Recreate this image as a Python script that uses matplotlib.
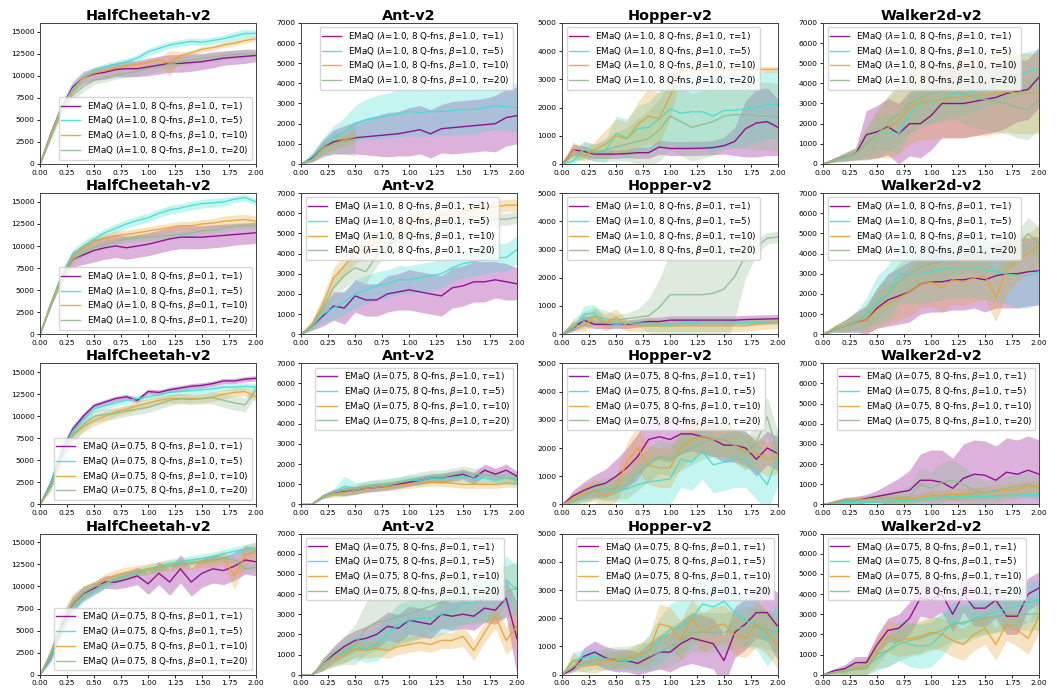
import numpy as np
import matplotlib
matplotlib.use("Agg")
import matplotlib.pyplot as plt

nan = np.nan
x = [i / 10 for i in range(21)]

envs = ["HalfCheetah-v2", "Ant-v2", "Hopper-v2", "Walker2d-v2"]
settings = [("1.0", "1.0"), ("1.0", "0.1"), ("0.75", "1.0"), ("0.75", "0.1")]
taus = ["1", "5", "10", "20"]
colors = ["#8B008B", "#40E0D0", "#E5A435", "#8FBC8F"]

# ---------------- Row 1: lambda=1.0, beta=1.0 ----------------
r1_hc_mean = [
    [0, 3500, 6500, 8700, 9800, 10200, 10400, 10700, 10800, 10800, 11000, 11200, 11400, 11400, 11500, 11600, 11800, 12000, 12100, 12200, 12300],
    [0, 3400, 6500, 8500, 9800, 10600, 11000, 11300, 11600, 12000, 12700, 13100, 13500, 13700, 13900, 13800, 14000, 14200, 14500, 14800, 14800],
    [0, 3400, 6300, 8300, 9800, 10300, 10600, 10900, 11100, 11300, 11500, 11800, 11400, 12300, 12600, 13000, 13200, 13500, 13700, 14000, 14200],
    [0, 3000, 6000, 7800, 8800, 9500, 9800, 10100, 10300, 10500, 10800, 11000, 11300, 11600, 11800, 12000, 12100, 12300, 12400, 12500, 12500],
]
r1_hc_err = [
    [0, 300, 400, 600, 700, 700, 800, 800, 900, 900, 1000, 1000, 1000, 1000, 1000, 900, 900, 800, 800, 800, 700],
    [0, 200, 300, 400, 400, 400, 400, 400, 400, 400, 400, 400, 400, 400, 400, 400, 400, 400, 500, 500, 400],
    [0, 200, 300, 300, 300, 300, 300, 300, 300, 300, 300, 300, 1500, 400, 300, 300, 300, 300, 300, 300, 300],
    [0, 300, 500, 600, 600, 500, 500, 500, 500, 500, 500, 500, 500, 500, 500, 500, 500, 500, 500, 500, 500],
]
r1_ant_mean = [
    [0, 300, 800, 1100, 1200, 1300, 1350, 1400, 1450, 1500, 1600, 1700, 1500, 1750, 1800, 1850, 1900, 1950, 2000, 2300, 2400],
    [0, 350, 900, 1300, 1600, 2000, 2200, 2300, 2400, 2500, 2600, 2550, 2600, 2600, 2650, 2700, 2700, 2800, 2900, 2850, 2800],
    [0, 200, 800, 1000, 1200, 1350, nan, nan, nan, nan, nan, nan, nan, nan, nan, nan, nan, nan, nan, nan, nan],
    [0, 200, 700, 1000, 1100, 1200, nan, nan, nan, nan, nan, nan, nan, nan, nan, nan, nan, nan, nan, nan, nan],
]
r1_ant_err = [
    [0, 200, 400, 600, 700, 800, 900, 1000, 1100, 1100, 1200, 1200, 1200, 1200, 1300, 1300, 1300, 1300, 1400, 1400, 1400],
    [0, 200, 400, 600, 700, 900, 1000, 1100, 1100, 1200, 1200, 1200, 1200, 1200, 1200, 1200, 1200, 1200, 1200, 1200, 1200],
    [0, 100, 300, 300, 300, 300, nan, nan, nan, nan, nan, nan, nan, nan, nan, nan, nan, nan, nan, nan, nan],
    [0, 100, 400, 500, 600, 800, nan, nan, nan, nan, nan, nan, nan, nan, nan, nan, nan, nan, nan, nan, nan],
]
r1_hop_mean = [
    [0, 500, 450, 350, 350, 350, 370, 400, 400, 600, 550, 550, 550, 560, 580, 650, 800, 1250, 1450, 1500, 1300],
    [0, 100, 500, 400, 450, 1100, 900, 1250, 1300, 1600, 1950, 1800, 1850, 1850, 1700, 1900, 1900, 1950, 2000, 2100, 2100],
    [0, 500, 300, 500, 700, 1000, 900, 1400, 1700, 1600, 2400, 3300, 3350, 3350, 3350, 3350, 3350, 3350, 3350, 3350, 3350],
    [0, 300, 500, 400, 500, 600, 700, 800, 900, 1200, 1700, 1500, 1300, 1400, 1500, 1700, 1750, 1750, 1700, 1700, 1650],
]
r1_hop_err = [
    [0, 200, 200, 150, 150, 150, 150, 200, 200, 250, 250, 250, 250, 250, 250, 300, 500, 1000, 1200, 1200, 1000],
    [0, 100, 300, 300, 400, 600, 700, 800, 900, 1000, 1200, 1300, 1300, 1300, 1300, 1300, 1300, 1300, 1200, 1200, 1200],
    [0, 300, 200, 300, 500, 600, 600, 800, 1000, 900, 800, 150, 100, 100, 100, 100, 100, 100, 100, 100, 100],
    [0, 200, 300, 300, 400, 500, 600, 800, 1000, 1100, 1200, 1200, 1200, 1200, 1200, 1200, 1200, 1200, 1200, 1200, 1200],
]
r1_wk_mean = [
    [0, 200, 350, 500, 1450, 1600, 1850, 1500, 2000, 2000, 2400, 3000, 3000, 3000, 3100, 3200, 3300, 3500, 3600, 3700, 4300],
    [0, 200, 300, 500, 1000, 1500, 1600, 1500, 2500, 3000, 3000, 3200, 3500, 3400, 3600, 3800, 4000, 4200, 4400, 4600, 4700],
    [0, 200, 350, 500, 1000, 1500, 1800, 2200, 2800, 3100, 3100, 3200, 3300, 3300, 3400, 3400, 3500, 3600, 3500, 3500, 3500],
    [0, 200, 350, 500, 1000, 1500, 2000, 2500, 3000, 3300, 3500, 3600, 3700, 3500, 3300, 3200, 3100, 3000, 2800, 2700, 3200],
]
r1_wk_err = [
    [0, 100, 200, 300, 1200, 1300, 1400, 1500, 1600, 1700, 1700, 1700, 1700, 1700, 1700, 1700, 1700, 1700, 1500, 1500, 1500],
    [0, 100, 200, 300, 600, 800, 900, 1000, 1000, 1000, 1000, 1000, 1000, 1000, 1000, 1000, 1000, 1000, 1000, 1000, 1000],
    [0, 100, 200, 300, 800, 1200, 1500, 1700, 1800, 1900, 1900, 1900, 2000, 2000, 2000, 2000, 2000, 2000, 2000, 2000, 2000],
    [0, 100, 200, 300, 800, 1200, 1400, 1500, 1500, 1500, 1500, 1500, 1500, 1500, 1500, 1500, 1500, 1500, 1500, 1500, 1500],
]

# ---------------- Row 2: lambda=1.0, beta=0.1 ----------------
r2_hc_mean = [
    [0, 3500, 6500, 8500, 9000, 9500, 9800, 10000, 9800, 10000, 10200, 10500, 10800, 11000, 11000, 11000, 11100, 11200, 11300, 11400, 11500],
    [0, 3500, 6800, 9000, 10000, 10800, 11500, 12000, 12500, 12900, 13200, 13700, 14100, 14300, 14600, 14800, 14900, 15000, 15300, 15500, 15000],
    [0, 3500, 6500, 8800, 9800, 10500, 10900, 11200, 11300, 11500, 11700, 11900, 12100, 12300, 12300, 12500, 12600, 12800, 12900, 13000, 12800],
    [0, 3300, 6300, 8500, 9200, 9800, 10200, 10500, 10800, 10900, 11000, 11100, 11200, 11300, 11500, 11700, 11800, 12000, 12200, 12300, 12300],
]
r2_hc_err = [
    [0, 300, 600, 900, 1100, 1300, 1300, 1300, 1300, 1300, 1300, 1300, 1300, 1300, 1300, 1300, 1300, 1300, 1200, 1200, 1200],
    [0, 300, 500, 600, 600, 500, 500, 500, 500, 500, 500, 500, 500, 500, 500, 500, 500, 500, 400, 400, 400],
    [0, 300, 500, 500, 500, 500, 500, 500, 500, 500, 500, 500, 500, 500, 500, 500, 500, 600, 600, 600, 600],
    [0, 300, 500, 500, 400, 400, 400, 400, 400, 400, 400, 400, 400, 400, 400, 400, 400, 400, 400, 400, 400],
]
r2_ant_mean = [
    [0, 400, 900, 1400, 1300, 1900, 1700, 1700, 2000, 2100, 2200, 2100, 2000, 1900, 2300, 2400, 2600, 2600, 2700, 2600, 2500],
    [0, 400, 1000, 1300, 1600, 2000, 2200, 2400, 2500, 2700, 2700, 2800, 2900, 3000, 3300, 3500, 3600, 3700, 3800, 3800, 4200],
    [0, 500, 1500, 2800, 3400, 4000, 4200, 4600, 5000, 5300, 5600, 5700, 5800, 5900, 6000, 6100, 6200, 6300, 6300, 6400, 6400],
    [0, 400, 1300, 2300, 2900, 3300, 3100, 3900, 4400, 4700, 5000, 5100, 5300, 5400, 5500, 5600, 5600, 5600, 5700, 5700, 5800],
]
r2_ant_err = [
    [0, 200, 500, 700, 800, 800, 800, 800, 900, 900, 1000, 1000, 1000, 1000, 1000, 1000, 1000, 1000, 900, 900, 800],
    [0, 200, 400, 600, 600, 700, 700, 700, 700, 700, 700, 700, 700, 700, 700, 700, 700, 700, 700, 700, 700],
    [0, 200, 400, 500, 500, 500, 400, 400, 300, 300, 300, 300, 300, 300, 300, 300, 300, 300, 300, 300, 300],
    [0, 200, 400, 500, 600, 600, 600, 500, 400, 400, 400, 400, 400, 300, 300, 300, 300, 300, 300, 300, 300],
]
r2_hop_mean = [
    [0, 200, 500, 350, 350, 350, 350, 400, 450, 450, 500, 500, 500, 500, 500, 500, 500, 520, 530, 540, 550],
    [0, 200, 700, 750, 400, 350, 380, 400, 380, 370, 350, 400, 420, 450, 450, 450, 430, 400, 420, 440, 450],
    [0, 300, 300, 600, 400, 600, 300, 300, 300, 300, 300, 300, 300, 300, 300, 300, 300, 300, 350, 380, 400],
    [0, 350, 500, 650, 550, 500, 550, 600, 650, 950, 1400, 1400, 1400, 1400, 1450, 1600, 2050, 2800, 3100, 3400, 3450],
]
r2_hop_err = [
    [0, 100, 200, 150, 150, 150, 150, 150, 150, 150, 150, 150, 150, 150, 150, 150, 150, 150, 150, 150, 150],
    [0, 100, 300, 300, 150, 100, 100, 100, 100, 100, 100, 100, 100, 100, 100, 100, 100, 100, 100, 100, 100],
    [0, 200, 200, 300, 300, 300, 200, 200, 200, 200, 200, 200, 200, 200, 200, 200, 200, 200, 200, 200, 200],
    [0, 200, 300, 300, 300, 200, 200, 300, 600, 1000, 1500, 1700, 1800, 1900, 2000, 2200, 1500, 800, 300, 200, 200],
]
r2_wk_mean = [
    [0, 250, 400, 600, 700, 1300, 1700, 1900, 2100, 2500, 2600, 2600, 2700, 2700, 2800, 2700, 2900, 3000, 3000, 3100, 3150],
    [0, 250, 400, 600, 1000, 1700, 2000, 3000, 3000, 3000, 3100, 3200, 3300, 3300, 3300, 3200, 3100, 3000, 2900, 2900, 3100],
    [0, 300, 400, 600, 700, 1200, 1500, 1800, 2100, 2500, 2600, 2300, 2700, 2600, 2800, 2900, 1800, 3200, 3700, 4000, 4400],
    [0, 250, 400, 600, 900, 1500, 2000, 2600, 3000, 3300, 3500, 3600, 3800, 3900, 4000, 4000, 4000, 4000, 4300, 5000, 4500],
]
r2_wk_err = [
    [0, 150, 300, 500, 700, 1000, 1300, 1400, 1500, 1500, 1500, 1500, 1500, 1500, 1500, 1600, 1600, 1700, 1700, 1700, 1700],
    [0, 150, 300, 500, 800, 1200, 1400, 1500, 1500, 1500, 1500, 1500, 1500, 1500, 1500, 1500, 1500, 1500, 1600, 1600, 1600],
    [0, 150, 300, 400, 600, 900, 1000, 1100, 1200, 1200, 1200, 1200, 1200, 1200, 1200, 1200, 1200, 1200, 1100, 1000, 1000],
    [0, 150, 300, 400, 600, 800, 900, 900, 900, 900, 900, 900, 900, 900, 900, 900, 900, 900, 800, 800, 800],
]

# ---------------- Row 3: lambda=0.75, beta=1.0 ----------------
r3_hc_mean = [
    [0, 2500, 6000, 8500, 10000, 11200, 11600, 12000, 12200, 11800, 12800, 12700, 13000, 13200, 13400, 13500, 13700, 14000, 14000, 14200, 14300],
    [0, 2500, 6000, 8300, 9600, 10800, 11200, 11500, 11800, 12000, 12200, 12400, 12700, 12800, 12900, 13000, 13100, 13300, 13300, 13400, 13300],
    [0, 2000, 5500, 7800, 8800, 9500, 10000, 10500, 10800, 11200, 11500, 11800, 12000, 12000, 12000, 12000, 12200, 12500, 12700, 12800, 12200],
    [0, 2000, 5500, 7800, 9000, 10000, 10200, 10300, 10600, 10800, 11000, 11400, 11800, 12000, 11900, 12000, 12100, 11800, 11500, 11300, 13000],
]
r3_hc_err = [
    [0, 400, 600, 500, 400, 300, 300, 300, 300, 300, 300, 300, 300, 300, 300, 300, 300, 300, 300, 300, 300],
    [0, 400, 800, 700, 500, 400, 400, 400, 400, 400, 400, 400, 400, 400, 400, 400, 400, 400, 400, 400, 400],
    [0, 400, 700, 700, 600, 600, 600, 500, 500, 500, 500, 500, 500, 500, 500, 500, 500, 500, 500, 500, 500],
    [0, 400, 700, 700, 700, 700, 700, 600, 600, 600, 600, 600, 600, 600, 600, 600, 700, 800, 800, 800, 700],
]
r3_ant_mean = [
    [0, 0, 400, 600, 650, 700, 800, 850, 900, 1000, 1100, 1200, 1300, 1300, 1400, 1500, 1300, 1700, 1500, 1700, 1400],
    [0, 0, 400, 600, 900, 800, 900, 950, 1000, 1100, 1200, 1200, 1300, 1300, 1350, 1400, 1300, 1300, 1200, 1300, 1200],
    [0, 0, 400, 500, 600, 700, 800, 850, 900, 950, 1000, 1050, 1100, 1100, 1050, 1000, 1000, 1000, 1000, 1050, 1050],
    [0, 0, 400, 600, 700, 800, 900, 1000, 1050, 1100, 1200, 1300, 1400, 1400, 1500, 1600, 1500, 1500, 1400, 1300, 1300],
]
r3_ant_err = [
    [0, 0, 100, 150, 200, 200, 200, 200, 200, 200, 200, 200, 200, 250, 250, 250, 300, 300, 300, 300, 250],
    [0, 0, 100, 150, 500, 300, 250, 250, 250, 250, 250, 250, 250, 250, 250, 250, 250, 250, 250, 250, 250],
    [0, 0, 100, 150, 200, 200, 200, 200, 200, 200, 200, 200, 200, 200, 200, 200, 200, 200, 200, 200, 200],
    [0, 0, 100, 150, 200, 200, 250, 250, 250, 250, 300, 300, 300, 300, 300, 300, 300, 300, 300, 300, 300],
]
r3_hop_mean = [
    [0, 300, 500, 650, 750, 1000, 1300, 1700, 2300, 2400, 2300, 2500, 2500, 2400, 2300, 2100, 2100, 2000, 1600, 2000, 1800],
    [0, 100, 300, 500, 450, 500, 550, 700, 800, 850, 900, 1600, 1500, 1900, 1400, 1500, 1600, 1600, 1200, 700, 1700],
    [0, 200, 400, 500, 300, 600, 1500, 2000, 1400, 1300, 1300, 2000, 2300, 2400, 2300, 2300, 2100, 1900, 1800, 1600, 1700],
    [0, 100, 300, 500, 550, 600, 700, 1100, 1400, 1700, 1600, 1800, 2000, 2200, 2300, 2300, 2100, 1800, 2200, 3100, 1800],
]
r3_hop_err = [
    [0, 200, 300, 400, 500, 600, 700, 800, 800, 800, 800, 700, 600, 600, 600, 600, 600, 600, 600, 600, 600],
    [0, 100, 200, 300, 300, 400, 500, 700, 800, 900, 900, 1000, 1000, 1000, 1000, 1000, 1000, 1000, 1000, 1000, 1000],
    [0, 200, 300, 400, 400, 500, 700, 800, 700, 700, 700, 700, 700, 600, 600, 600, 600, 600, 600, 600, 600],
    [0, 200, 300, 300, 400, 400, 500, 600, 600, 600, 600, 600, 600, 600, 600, 600, 600, 600, 600, 700, 800],
]
r3_wk_mean = [
    [0, 100, 200, 200, 300, 400, 500, 600, 700, 1200, 1200, 1100, 800, 1300, 1500, 1450, 1200, 1600, 1500, 1700, 1500],
    [0, 50, 100, 100, 100, 100, 150, 180, 200, 250, 300, 350, 400, 400, 400, 400, 420, 450, 450, 480, 500],
    [0, 100, 200, 250, 250, 300, 300, 300, 300, 350, 450, 450, 500, 500, 550, 600, 650, 700, 750, 900, 900],
    [0, 100, 200, 200, 250, 300, 300, 350, 400, 1000, 800, 1100, 1200, 1000, 700, 600, 700, 800, 900, 1000, 800],
]
r3_wk_err = [
    [0, 100, 150, 200, 200, 300, 500, 700, 1000, 1300, 1500, 1600, 1500, 1700, 1700, 1700, 1700, 1700, 1700, 1700, 1700],
    [0, 50, 100, 100, 100, 100, 100, 100, 100, 150, 150, 150, 150, 150, 150, 150, 150, 150, 150, 150, 150],
    [0, 100, 100, 150, 150, 150, 200, 200, 200, 200, 250, 250, 300, 300, 300, 300, 300, 300, 300, 300, 300],
    [0, 100, 150, 150, 200, 200, 300, 400, 500, 800, 800, 1000, 1000, 900, 700, 600, 600, 600, 600, 600, 600],
]

# ---------------- Row 4: lambda=0.75, beta=0.1 ----------------
r4_hc_mean = [
    [0, 2000, 5500, 8000, 9200, 9800, 10500, 10500, 10800, 11200, 10300, 11500, 10500, 12000, 10500, 11500, 12000, 11800, 12300, 13000, 12800],
    [0, 2000, 5200, 7500, 8800, 9500, 10300, 10800, 11200, 11600, 12000, 12300, 12600, 12800, 13000, 13200, 13400, 13700, 14000, 14200, 14400],
    [0, 2500, 6000, 8200, 9300, 10000, 10800, 11300, 11600, 11800, 12000, 12200, 12400, 12500, 12600, 12700, 12900, 13200, 11200, 13500, 14000],
    [0, 2500, 6000, 8000, 9300, 10000, 10300, 10800, 11200, 11500, 11800, 12000, 12300, 12500, 12700, 12900, 13000, 13200, 13000, 12000, 12200],
]
r4_hc_err = [
    [0, 500, 800, 800, 800, 700, 700, 800, 900, 1000, 1200, 1300, 1500, 1600, 1600, 1600, 1600, 1600, 1600, 1600, 1600],
    [0, 500, 800, 800, 600, 500, 500, 500, 500, 500, 500, 500, 500, 500, 500, 500, 500, 500, 500, 600, 600],
    [0, 600, 1000, 1000, 800, 600, 600, 600, 600, 600, 600, 600, 600, 600, 600, 600, 700, 800, 1500, 1200, 1000],
    [0, 600, 900, 900, 700, 500, 400, 400, 400, 400, 400, 400, 400, 400, 400, 400, 400, 400, 400, 500, 500],
]
r4_ant_mean = [
    [0, 0, 500, 1000, 1400, 1700, 1800, 2000, 2400, 2300, 2700, 2600, 2500, 3000, 2900, 3000, 2900, 3300, 3200, 3800, 1800],
    [0, 0, 500, 900, 1100, 1400, 1300, 1500, 2000, 2500, 2700, 2800, 2800, 3000, 3200, 3500, 3600, 3700, 3800, 4700, 4200],
    [0, 0, 500, 800, 1000, 1300, 1200, 1300, 1200, 1400, 1500, 1600, 1500, 1700, 1700, 1900, 1200, 2100, 2900, 1700, 2400],
    [0, 0, 500, 900, 1200, 1500, 2300, 2600, 2700, 2900, 3000, 3200, 3400, 3600, 3700, 3800, 3800, 3900, 4000, 4100, 4300],
]
r4_ant_err = [
    [0, 0, 300, 400, 500, 500, 600, 700, 700, 700, 700, 700, 700, 700, 700, 700, 700, 700, 700, 900, 1800],
    [0, 0, 300, 400, 500, 600, 700, 800, 900, 1000, 1000, 1000, 1000, 1000, 1000, 1000, 1000, 1000, 1000, 1200, 1200],
    [0, 0, 300, 400, 400, 400, 400, 400, 400, 400, 400, 400, 400, 400, 400, 500, 500, 500, 600, 700, 900],
    [0, 0, 300, 500, 700, 1000, 1300, 1400, 1400, 1400, 1400, 1400, 1300, 1300, 1300, 1300, 1300, 1300, 1300, 1300, 1300],
]
r4_hop_mean = [
    [0, 200, 650, 800, 600, 500, 500, 400, 600, 800, 800, 1100, 1300, 1200, 1100, 500, 1500, 1800, 2200, 2200, 1700],
    [0, 500, 600, 650, 550, 500, 500, 550, 800, 1200, 1600, 1700, 2000, 2500, 2400, 2600, 2200, 1900, 1800, 1200, 1700],
    [0, 500, 300, 350, 500, 500, 600, 700, 800, 1800, 1700, 1200, 2000, 1500, 1700, 1800, 1400, 1300, 1800, 1500, 1000],
    [0, 300, 400, 500, 550, 600, 600, 600, 650, 800, 1000, 1200, 1500, 1500, 1500, 1500, 1600, 1700, 1700, 1600, 1500],
]
r4_hop_err = [
    [0, 100, 300, 400, 400, 400, 400, 400, 500, 600, 700, 800, 900, 900, 900, 900, 900, 900, 900, 1000, 1200],
    [0, 300, 300, 300, 300, 300, 300, 400, 600, 800, 900, 1000, 1000, 1000, 1000, 1000, 900, 900, 900, 900, 900],
    [0, 300, 200, 300, 300, 300, 300, 400, 500, 700, 700, 700, 700, 700, 700, 700, 700, 700, 800, 800, 800],
    [0, 200, 300, 300, 400, 400, 400, 500, 500, 600, 700, 700, 700, 700, 700, 700, 700, 700, 700, 700, 700],
]
r4_wk_mean = [
    [0, 200, 300, 600, 600, 1500, 2200, 2300, 2800, 3800, 3700, 4000, 3000, 4000, 3300, 3300, 3700, 2900, 2900, 4000, 4300],
    [0, 100, 200, 300, 400, 800, 1200, 1700, 1500, 1400, 1500, 2000, 2600, 2500, 2800, 3000, 3100, 3300, 3400, 3600, 3700],
    [0, 100, 200, 300, 400, 1200, 1900, 1700, 1800, 1900, 2100, 2000, 1700, 1500, 2000, 2300, 1500, 2500, 2200, 1800, 2900],
    [0, 100, 200, 250, 300, 1000, 1200, 1500, 1700, 1800, 2000, 2200, 2500, 2600, 2700, 2800, 2900, 3000, 3000, 3000, 3000],
]
r4_wk_err = [
    [0, 100, 200, 300, 300, 500, 600, 700, 800, 900, 900, 900, 900, 900, 900, 900, 900, 900, 900, 800, 800],
    [0, 100, 200, 300, 400, 600, 800, 1000, 1100, 1100, 1100, 1100, 1000, 1000, 1000, 1000, 1000, 1000, 1000, 1000, 1000],
    [0, 100, 200, 300, 400, 700, 800, 800, 800, 800, 800, 800, 800, 800, 800, 800, 800, 800, 800, 800, 800],
    [0, 100, 200, 250, 300, 700, 800, 800, 800, 800, 800, 800, 800, 800, 800, 800, 800, 800, 800, 800, 800],
]

means = [
    [r1_hc_mean, r1_ant_mean, r1_hop_mean, r1_wk_mean],
    [r2_hc_mean, r2_ant_mean, r2_hop_mean, r2_wk_mean],
    [r3_hc_mean, r3_ant_mean, r3_hop_mean, r3_wk_mean],
    [r4_hc_mean, r4_ant_mean, r4_hop_mean, r4_wk_mean],
]
errs = [
    [r1_hc_err, r1_ant_err, r1_hop_err, r1_wk_err],
    [r2_hc_err, r2_ant_err, r2_hop_err, r2_wk_err],
    [r3_hc_err, r3_ant_err, r3_hop_err, r3_wk_err],
    [r4_hc_err, r4_ant_err, r4_hop_err, r4_wk_err],
]

ylims = [16000, 7000, 5000, 7000]
yticks = [np.arange(0, 15001, 2500), np.arange(0, 7001, 1000),
          np.arange(0, 5001, 1000), np.arange(0, 7001, 1000)]
legend_locs = [
    ["lower right", "upper right", "upper left", "upper left"],
    ["lower right", "upper left", "upper left", "upper left"],
    ["lower right", "upper right", "upper left", "upper right"],
    ["lower right", "upper left", "upper right", "upper left"],
]

fig, axes = plt.subplots(4, 4, figsize=(10.58, 6.92), dpi=100)
fig.subplots_adjust(left=0.038, right=0.982, top=0.967, bottom=0.025,
                    wspace=0.21, hspace=0.206)

xa = np.array(x)
for r in range(4):
    lam, beta = settings[r]
    for c in range(4):
        ax = axes[r, c]
        for k in range(4):
            m = np.array(means[r][c][k], dtype=float)
            e = np.array(errs[r][c][k], dtype=float)
            label = (r"EMaQ ($\lambda$=" + lam + r", 8 Q-fns, $\beta$=" + beta
                     + r", $\tau$=" + taus[k] + ")")
            ax.fill_between(xa, m - e, m + e, color=colors[k], alpha=0.3,
                            linewidth=0)
            ax.plot(xa, m, color=colors[k], lw=1.0, alpha=0.9, label=label)
        ax.set_xlim(0, 2.0)
        ax.set_ylim(0, ylims[c])
        ax.set_xticks(np.arange(0, 2.01, 0.25))
        ax.set_xticklabels(["%.2f" % v for v in np.arange(0, 2.01, 0.25)])
        ax.set_yticks(yticks[c])
        ax.tick_params(labelsize=5.4, length=2.5, width=0.6, pad=1.5)
        for s in ax.spines.values():
            s.set_linewidth(0.7)
            s.set_color("#444444")
        ax.set_title(envs[c], fontsize=10.4, fontweight="bold", pad=2)
        ax.legend(loc=legend_locs[r][c], fontsize=6.3, handlelength=2.2,
                  borderpad=0.3, labelspacing=0.2, handletextpad=0.8,
                  borderaxespad=0.5)

fig.savefig("out.png", dpi=100)
